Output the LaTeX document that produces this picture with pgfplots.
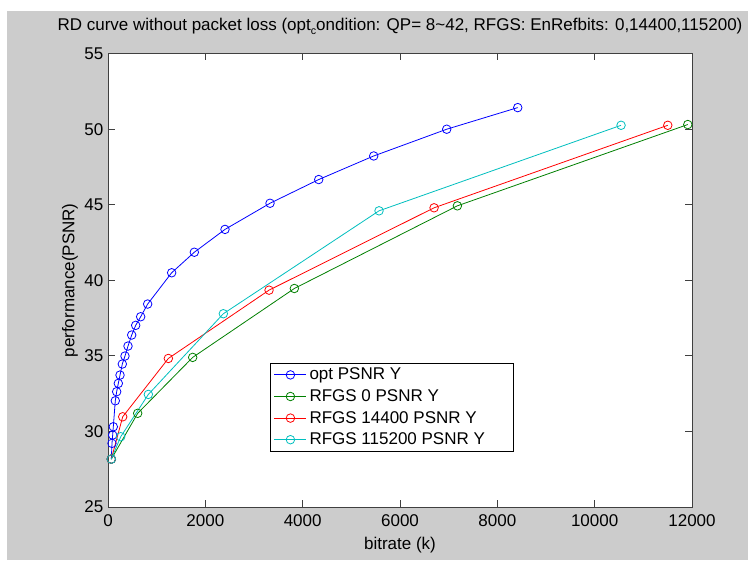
\documentclass[border=0pt]{standalone}
\usepackage{fontspec}
\setmainfont{Liberation Sans}
\usepackage{pgfplots}
\pgfplotsset{compat=1.18}
\definecolor{figgray}{RGB}{204,204,204}
\definecolor{mblue}{RGB}{0,0,255}
\definecolor{mgreen}{RGB}{0,128,0}
\definecolor{mred}{RGB}{255,0,0}
\definecolor{mcyan}{RGB}{0,191,191}
\newcommand{\mfont}{\fontsize{12.75}{15}\selectfont}
\newcommand{\lent}[1]{\makebox[148pt][l]{#1}}
\begin{document}
\begin{tikzpicture}[x=0.75pt,y=0.75pt]
\fill[figgray] (0,0) rectangle (748,560);
\fill[white] (0,549) rectangle (748,560);
\fill[white] (0,0) rectangle (7,549);
\useasboundingbox (0,0) rectangle (748,560);
\begin{axis}[
  at={(81pt,39.75pt)}, anchor=south west,
  scale only axis, width=438pt, height=340pt,
  xmin=0, xmax=12000, ymin=25, ymax=55,
  xtick={0,2000,...,12000}, ytick={25,30,...,55},
  scaled x ticks=false,
  xticklabel style={/pgf/number format/1000 sep={}, yshift=-2pt},
  /pgf/number format/assume math mode=true,
  tick label style={font=\mfont},
  tick align=inside, tick pos=both,
  major tick length=5pt,
  every tick/.style={black!75, line width=0.6pt},
  axis line style={black!75, line width=0.6pt},
  axis background/.style={fill=white},
  xlabel={bitrate (k)},
  ylabel={performance(PSNR)},
  label style={font=\mfont},
  xlabel style={at={(axis description cs:0.5,-0.0838)}, anchor=center},
  ylabel style={at={(axis description cs:-0.0651,0.5)}, anchor=center},
  legend style={at={(0.277,0.3176)}, anchor=north west, draw=black, fill=white,
    font=\mfont, row sep=1.8pt, inner xsep=3pt, inner ysep=1.5pt,
    cells={anchor=west}},
  legend image code/.code={\draw[mark repeat=2,mark phase=2] plot coordinates {(0pt,0pt) (12pt,0pt) (24pt,0pt)};},
  every axis plot/.append style={line width=0.6pt, mark=o, mark size=3.2pt, mark options={solid}},
]
\addplot[color=mblue] coordinates {
(68,28.17) (82,29.21) (96,29.76) (109,30.31) (150,32.03) (178,32.63)
(212,33.18) (247,33.73) (294,34.46) (349,34.99) (411,35.65) (487,36.38)
(569,37.02) (671,37.59) (815,38.43) (1308,40.5) (1774,41.86) (2404,43.37)
(3329,45.1) (4330,46.67) (5460,48.23) (6960,50.0) (8419,51.43)};
\addlegendentry{\lent{opt PSNR Y}}
\addplot[color=mgreen] coordinates {
(68,28.17) (610,31.2) (1740,34.9) (3829,39.46) (7179,44.93) (11913,50.31)};
\addlegendentry{\lent{RFGS 0 PSNR Y}}
\addplot[color=mred] coordinates {
(68,28.17) (302,30.97) (1240,34.83) (3309,39.35) (6700,44.8) (11502,50.26)};
\addlegendentry{\lent{RFGS 14400 PSNR Y}}
\addplot[color=mcyan] coordinates {
(68,28.17) (261,29.65) (829,32.45) (2370,37.79) (5569,44.6) (10542,50.26)};
\addlegendentry{\lent{RFGS 115200 PSNR Y}}
\end{axis}
\node[font=\mfont] at (400,534) {RD curve without packet loss (opt\raisebox{-0.45ex}{\fontsize{8}{9}\selectfont c}ondition: QP= 8\char`~42, RFGS: EnRefbits: 0,14400,115200)};
\end{tikzpicture}
\end{document}
